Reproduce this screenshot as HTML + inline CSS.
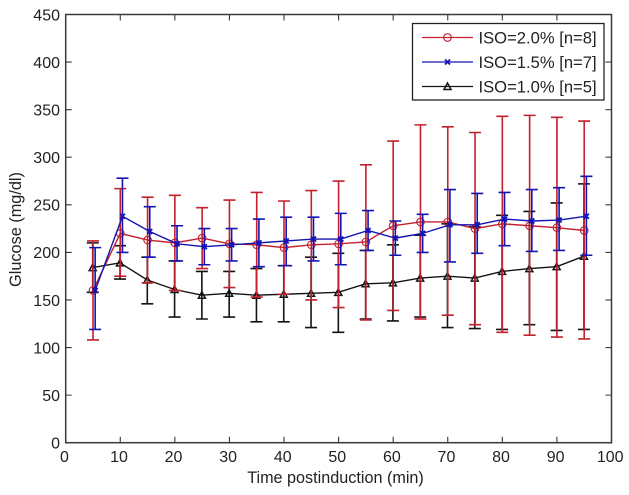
<!DOCTYPE html>
<html>
<head>
<meta charset="utf-8">
<style>
html,body{margin:0;padding:0;background:#fff;width:629px;height:495px;overflow:hidden}
svg{display:block;filter:blur(0.35px)}
text{font-family:"Liberation Sans",sans-serif;fill:#222}
</style>
</head>
<body>
<svg id="chart" xmlns="http://www.w3.org/2000/svg" width="629" height="495" viewBox="0 0 629 495"></svg>
<script>
const times = [5,10,15,20,25,30,35,40,45,50,55,60,65,70,75,80,85,90,95];
const xTicks = [0,10,20,30,40,50,60,70,80,90,100];
const yTicks = [0,50,100,150,200,250,300,350,400,450];

const redMean = [160,220,213,210,215,209,208,205,208,209,211,228,232,232,225,230,228,226,223];
const redUpper = [212,267,258,260,247,255,263,254,265,275,292,317,334,332,326,343,344,342,338];
const redLower = [108,175,168,160,183,163,153,156,150,142,129,139,130,134,124,116,113,111,109];

const blueMean = [160,238,222,209,206,208,210,212,214,214,223,215,220,229,229,235,233,234,238];
const blueUpper = [205,278,248,228,225,225,235,237,237,241,244,233,240,266,262,263,266,268,280];
const blueLower = [119,200,195,191,187,191,185,186,191,187,202,197,200,190,199,207,201,202,197];

const blackMean = [184,189,171,161,155,157,155,156,157,158,167,168,173,175,173,180,183,185,196];
const blackUpper = [210,207,195,191,180,180,183,186,195,199,202,208,218,230,227,239,243,252,272];
const blackLower = [158,172,146,132,130,132,127,127,121,116,130,128,132,121,120,119,124,118,119];

const blueTimeShift = [0.4];
const seriesLabels = ['ISO=2.0% [n=8]','ISO=1.5% [n=7]','ISO=1.0% [n=5]'];

const svg = document.getElementById('chart');
const NS = 'http://www.w3.org/2000/svg';
const L = 65.7, R = 611.5, T = 14.5, B = 442.7;
function xPos(v){ return L + (R - L) * v / 100; }
function yPos(v){ return B - (B - T) * v / 450; }
function make(tag, attrs, parent){
  const el = document.createElementNS(NS, tag);
  for (const k in attrs) el.setAttribute(k, attrs[k]);
  (parent || svg).appendChild(el);
  return el;
}

const axisColor = '#3a3a3a';

function marker(kind, cx, cy, color, parent){
  if (kind === 'circle') {
    const c = make('circle', {cx:cx, cy:cy, r:3.8, fill:'none', stroke:color, 'stroke-width':1.1}, parent);
    
    
  } else if (kind === 'cross') {
    const c = make('path', {d:`M${cx-2.5} ${cy-2.5}L${cx+2.5} ${cy+2.5}M${cx-2.5} ${cy+2.5}L${cx+2.5} ${cy-2.5}`, fill:'none', stroke:color, 'stroke-width':1.8}, parent);
    
    
  } else {
    const c = make('path', {d:`M${cx-3.5} ${cy+3}L${cx} ${cy-3.5}L${cx+3.5} ${cy+3}Z`, fill:'none', stroke:color, 'stroke-width':1.5}, parent);
    
    
  }
}

function drawSeries(name, mean, upper, lower, shift, color, kind){
  const g = make('g', {});
  
  
  const capHalf = 6;
  let pts = [];
  times.forEach(function(t, i){
    const x = xPos(t + shift);
    const yu = yPos(upper[i]), yl = yPos(lower[i]);
    const bar = make('path', {
      d:`M${x} ${yu}L${x} ${yl}M${x-capHalf} ${yu}L${x+capHalf} ${yu}M${x-capHalf} ${yl}L${x+capHalf} ${yl}`,
      fill:'none', stroke:color, 'stroke-width':1.6
    }, g);
    
    
    pts.push(x + ',' + yPos(mean[i]));
  });
  const line = make('polyline', {points:pts.join(' '), fill:'none', stroke:color, 'stroke-width':1.4}, g);
  
  
  times.forEach(function(t, i){
    marker(kind, xPos(t + shift), yPos(mean[i]), color, g);
  });
}

const redColor = '#c4202e', blueColor = '#1414b4', blackColor = '#141414';
drawSeries('series-iso-1-0', blackMean, blackUpper, blackLower, -0.05, blackColor, 'triangle');
drawSeries('series-iso-2-0', redMean, redUpper, redLower, 0, redColor, 'circle');
drawSeries('series-iso-1-5', blueMean, blueUpper, blueLower, blueTimeShift[0], blueColor, 'cross');

/* axes */
const frame = make('rect', {x:L, y:T, width:R-L, height:B-T, fill:'none', stroke:axisColor, 'stroke-width':1.5});



xTicks.forEach(function(v){
  const x = xPos(v);
  const t1 = make('path', {d:`M${x} ${B}L${x} ${B-6}M${x} ${T}L${x} ${T+6}`, stroke:axisColor, 'stroke-width':1.1, fill:'none'});
  
  
  const lab = make('text', {x:x-1.3, y:462, 'font-size':16, 'text-anchor':'middle'});
  lab.textContent = v;
  
  
});
yTicks.forEach(function(v){
  const y = yPos(v);
  const t1 = make('path', {d:`M${L} ${y}L${L+6} ${y}M${R} ${y}L${R-6} ${y}`, stroke:axisColor, 'stroke-width':1.1, fill:'none'});
  
  
  const lab = make('text', {x:60, y:y+5.8, 'font-size':16, 'text-anchor':'end'});
  lab.textContent = v;
  
  
});

const xt = make('text', {x:335.5, y:483, 'font-size':16.2, 'text-anchor':'middle'});
xt.textContent = 'Time postinduction (min)';



const yt = make('text', {x:0, y:0, 'font-size':16.3, 'text-anchor':'middle', transform:'translate(21,229.5) rotate(-90)'});
yt.textContent = 'Glucose (mg/dl)';



/* legend */
const lg = make('g', {});


const lbox = make('rect', {x:412.5, y:23.5, width:191.5, height:76.5, fill:'#fff', stroke:'#222', 'stroke-width':1.3}, lg);


const legendColors = [redColor, blueColor, blackColor];
const legendKinds = ['circle','cross','triangle'];
seriesLabels.forEach(function(label, i){
  const y = 37.5 + i * 24.5;
  const e = make('g', {}, lg);
  
  
  const ln = make('line', {x1:422, x2:473, y1:y, y2:y, stroke:legendColors[i], 'stroke-width':1.3}, e);
  
  
  marker(legendKinds[i], 447.5, y, legendColors[i], e);
  const t = make('text', {x:478.5, y:y+6, 'font-size':16.6}, e);
  t.textContent = label;
  
  
});
</script>
</body>
</html>
